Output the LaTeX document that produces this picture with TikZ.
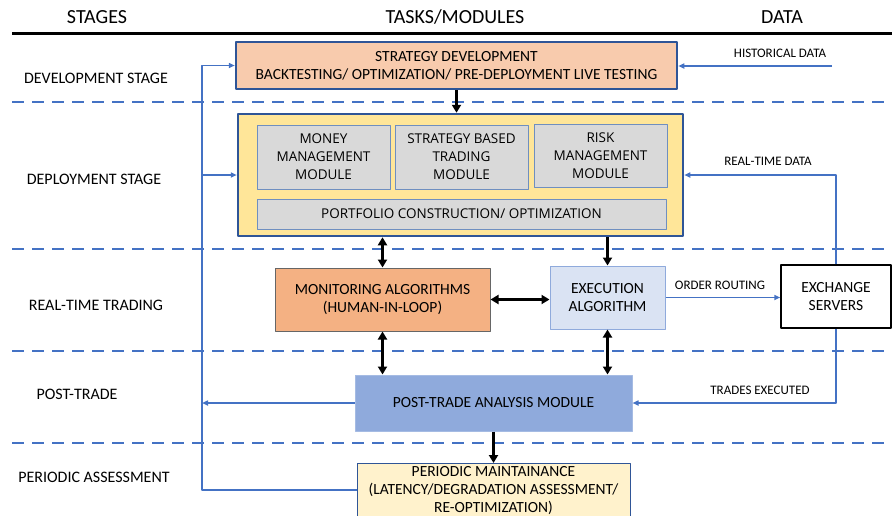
\documentclass[tikz,border=0pt]{standalone}
\usepackage{fontspec}
\setmainfont{Carlito}
\newfontfamily\modfont{Open Sans}
\usetikzlibrary{arrows.meta}
\definecolor{lineblue}{HTML}{4472C4}
\definecolor{darkblue}{HTML}{2F5597}
\definecolor{peach}{HTML}{F8CBAD}
\definecolor{deployyellow}{HTML}{FFE699}
\definecolor{modgray}{HTML}{D9D9D9}
\definecolor{modborder}{HTML}{6F8FC0}
\definecolor{monitorange}{HTML}{F4B183}
\definecolor{execblue}{HTML}{DAE3F3}
\definecolor{postblue}{HTML}{8FAADC}
\definecolor{periodcream}{HTML}{FFF2CC}
\begin{document}
\begin{tikzpicture}[x=1pt, y=-1pt, line join=round,
    head/.style={font=\fontsize{20}{24}\selectfont},
    stage/.style={font=\fontsize{16}{18}\selectfont},
    lbl/.style={font=\fontsize{13}{15}\selectfont},
    box/.style={draw, align=center, inner sep=2pt, font=\fontsize{15.5}{18}\selectfont},
    mainbox/.style={box, draw=darkblue, line width=2.5pt},
    module/.style={draw=modborder, fill=modgray, line width=1pt, align=center, inner sep=1pt,
        font=\modfont\fontsize{13.5}{18}\selectfont},
    feed/.style={draw=lineblue, line width=1.5pt, -{Triangle[length=6pt,width=5pt]}},
    flow/.style={line width=2.5pt, -{Triangle[length=8pt,width=9pt]}},
    twoway/.style={line width=2.5pt, {Triangle[length=8pt,width=9pt]}-{Triangle[length=8pt,width=9pt]}},
    sep/.style={draw=lineblue, line width=1.5pt, dash pattern=on 12pt off 8pt}]
  \useasboundingbox (0,0) rectangle (892,515);

  % column heads
  \node[head] (hstages) at (97,17) {STAGES};
  \node[head] (htasks) at (455,17) {TASKS/MODULES};
  \node[head] (hdata) at (782,17) {DATA};
  \draw[line width=3pt] (12,33) -- (892,33);

  % stage separators
  \foreach \y in {102,249,351,443}
    \draw[sep] (12,\y) -- (892,\y);

  % stage names
  \node[stage] (sdev) at (96,78) {DEVELOPMENT STAGE};
  \node[stage] (sdep) at (94,179) {DEPLOYMENT STAGE};
  \node[stage] (sreal) at (96,305) {REAL-TIME TRADING};
  \node[stage] (spost) at (77,394) {POST-TRADE};
  \node[stage] (speriod) at (94,477) {PERIODIC ASSESSMENT};

  % boxes
  \node[mainbox, fill=peach, minimum width=441, minimum height=47] (strat) at (456.5,65.5)
    {STRATEGY DEVELOPMENT\\BACKTESTING/ OPTIMIZATION/ PRE-DEPLOYMENT LIVE TESTING};
  \node[mainbox, fill=deployyellow, minimum width=445, minimum height=122] (deploy) at (460.5,175) {};
  \node[module, minimum width=133, minimum height=64] (money) at (323.5,157) {MONEY\\MANAGEMENT\\MODULE};
  \node[module, minimum width=133, minimum height=64] (sbased) at (461.5,157) {STRATEGY BASED\\TRADING\\MODULE};
  \node[module, minimum width=133, minimum height=63] (risk) at (600.5,155.5) {RISK\\MANAGEMENT\\MODULE};
  \node[module, minimum width=409, minimum height=30] (portf) at (461.5,214) {PORTFOLIO CONSTRUCTION/ OPTIMIZATION};
  \node[box, draw=gray!80!black, line width=1pt, fill=monitorange, minimum width=215, minimum height=63] (monit)
    at (382.5,299.5) {MONITORING ALGORITHMS\\(HUMAN-IN-LOOP)};
  \node[box, draw=postblue, line width=1pt, fill=execblue, minimum width=115, minimum height=63] (exec)
    at (607.5,297.5) {EXECUTION\\ALGORITHM};
  \node[box, line width=1.5pt, fill=white, minimum width=110, minimum height=63] (exch)
    at (836,296.5) {EXCHANGE\\SERVERS};
  \node[box, draw=postblue!80, line width=1pt, fill=postblue, minimum width=277, minimum height=56] (post)
    at (493.5,403) {POST-TRADE ANALYSIS MODULE};
  \node[box, draw=darkblue, line width=1pt, fill=periodcream, minimum width=273, anchor=north, inner sep=3pt] (period)
    at (493.5,463) {PERIODIC MAINTAINANCE\\(LATENCY/DEGRADATION ASSESSMENT/\\RE-OPTIMIZATION)};

  % task flow
  \draw[flow] (strat.south) -- (strat.south |- deploy.north);
  \draw[twoway] (monit.north |- deploy.south) -- (monit.north);
  \draw[flow] (exec.north |- deploy.south) -- (exec.north);
  \draw[twoway] (monit.east) -- (monit.east -| exec.west);
  \draw[twoway] (monit.south) -- (monit.south |- post.north);
  \draw[twoway] (exec.south) -- (exec.south |- post.north);
  \draw[flow] (post.south) -- (post.south |- period.north);

  % feedback loop
  \coordinate (fbbot) at (202,490);
  \draw[feed] (period.west |- fbbot) -- (fbbot) |- (strat.west);
  \draw[feed] (fbbot |- deploy.west) -- (deploy.west);
  \draw[feed] (post.west) -- (post.west -| fbbot);

  % data
  \coordinate (hist) at (832,66);
  \draw[feed] (hist) -- (hist -| strat.east);
  \draw[feed] (exch.north) |- (deploy.east);
  \draw[feed] (exec.east) -- (exec.east -| exch.west);
  \draw[feed] (exch.south) |- (post.east);
  \node[lbl] (lhist) at (780,53) {HISTORICAL DATA};
  \node[lbl] (lreal) at (768,161) {REAL-TIME DATA};
  \node[lbl] (lorder) at (720,285) {ORDER ROUTING};
  \node[lbl] (ltrades) at (760,390) {TRADES EXECUTED};
\end{tikzpicture}
\end{document}
